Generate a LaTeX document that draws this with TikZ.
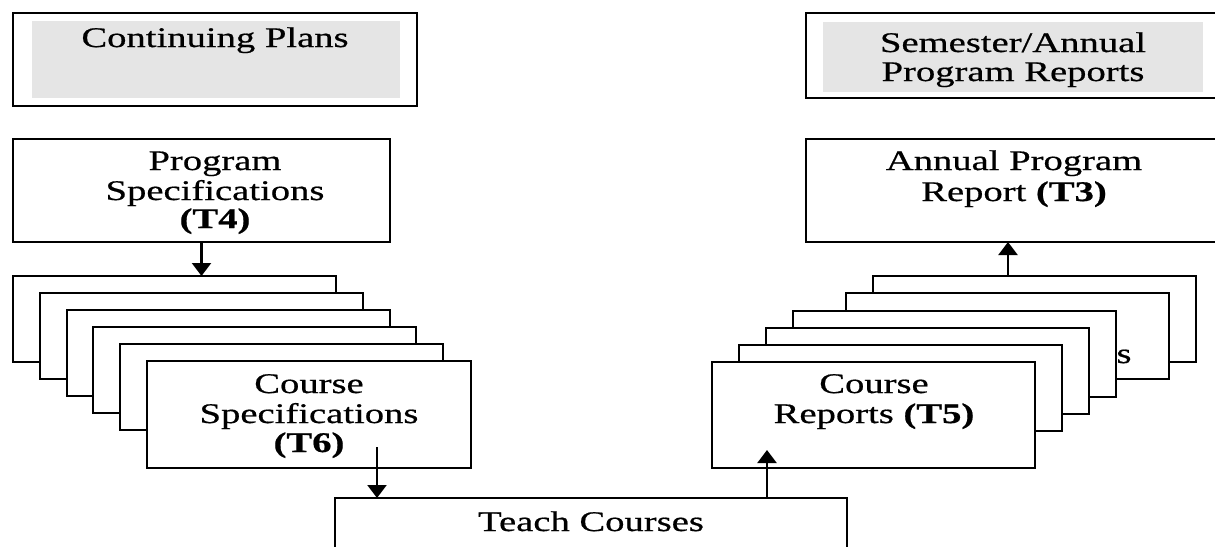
\documentclass[tikz,border=0pt]{standalone}
\usepackage{fontspec}
\setmainfont{Liberation Serif}[FakeStretch=1.36,FakeBold=0.6]
\usetikzlibrary{arrows.meta}
\begin{document}
\begin{tikzpicture}[x=0.5pt,y=-0.5pt,
  box/.style={draw, line width=1.1pt, fill=white, inner sep=0pt, outer sep=0pt, anchor=north west},
  graybox/.style={fill=black!10, draw=none, inner sep=0pt, outer sep=0pt, anchor=north west},
  card/.style={box, minimum width=161.5pt, minimum height=43pt},
  txt/.style={anchor=base, inner sep=0pt, font=\fontsize{14.2pt}{15.5pt}\selectfont},
  arr/.style={-{Triangle[width=9.5pt,length=6.5pt]}, line width=1.1pt}]
\clip (0,0) rectangle (1215,546);
% top row
\node[box, minimum width=202pt, minimum height=46.5pt] (cp) at (13,13) {};
\node[graybox, minimum width=184pt, minimum height=38.5pt] (cpg) at (32,21) {};
\node[txt] (cpt) at (215,47) {Continuing Plans};
\node[box, minimum width=215pt, minimum height=42.5pt] (sr) at (806,13) {};
\node[graybox, minimum width=190pt, minimum height=35pt] (srg) at (823,22) {};
\node[txt] (srt1) at (1013,52) {Semester/Annual};
\node[txt] (srt2) at (1013,81) {Program Reports};
% second row
\node[box, minimum width=188.5pt, minimum height=51.5pt] (ps) at (13,139) {};
\node[txt] (pst1) at (215,170) {Program};
\node[txt] (pst2) at (215,200) {Specifications};
\node[txt] (pst3) at (215,228) {\textbf{(T4)}};
\node[box, minimum width=215pt, minimum height=51.5pt] (ar) at (806,139) {};
\node[txt] (art1) at (1014,170) {Annual Program};
\node[txt] (art2) at (1014,201) {Report \textbf{(T3)}};
% left stack
\node[card] (l1) at (13,276) {};
\node[card] (l2) at (40,293) {};
\node[card] (l3) at (67,310) {};
\node[card] (l4) at (93,327) {};
\node[card] (l5) at (120,344) {};
\node[box, minimum width=162pt, minimum height=53.5pt] (l6) at (147,361) {};
\node[txt] (l6t1) at (309,393) {Course};
\node[txt] (l6t2) at (309,423) {Specifications};
\node[txt] (l6t3) at (309,452) {\textbf{(T6)}};
% right stack
\node[card] (r1) at (873,276) {};
\node[card] (r2) at (846,293) {};
\node[txt] (r2s) at (1124,363) {s};
\node[card] (r3) at (793,311) {};
\node[card] (r4) at (766,328) {};
\node[card] (r5) at (739,345) {};
\node[box, minimum width=161.5pt, minimum height=53pt] (r6) at (712,362) {};
\node[txt] (r6t1) at (874,393) {Course};
\node[txt] (r6t2) at (874,423) {Reports \textbf{(T5)}};
% bottom
\node[box, minimum width=256pt, minimum height=50pt] (tc) at (335,498) {};
\node[txt] (tct) at (591,531) {Teach Courses};
% connectors
\coordinate (a1) at (377,447);
\coordinate (a2) at (767,450);
\coordinate (a3) at (1008,276);
\draw[arr] (ps.south) -- (ps.south |- l1.north);
\draw[arr] (a1) -- (a1 |- tc.north);
\draw[arr] (a2 |- tc.north) -- (a2);
\draw[arr] (a3 |- r1.north) -- (a3 |- ar.south);
\end{tikzpicture}
\end{document}
